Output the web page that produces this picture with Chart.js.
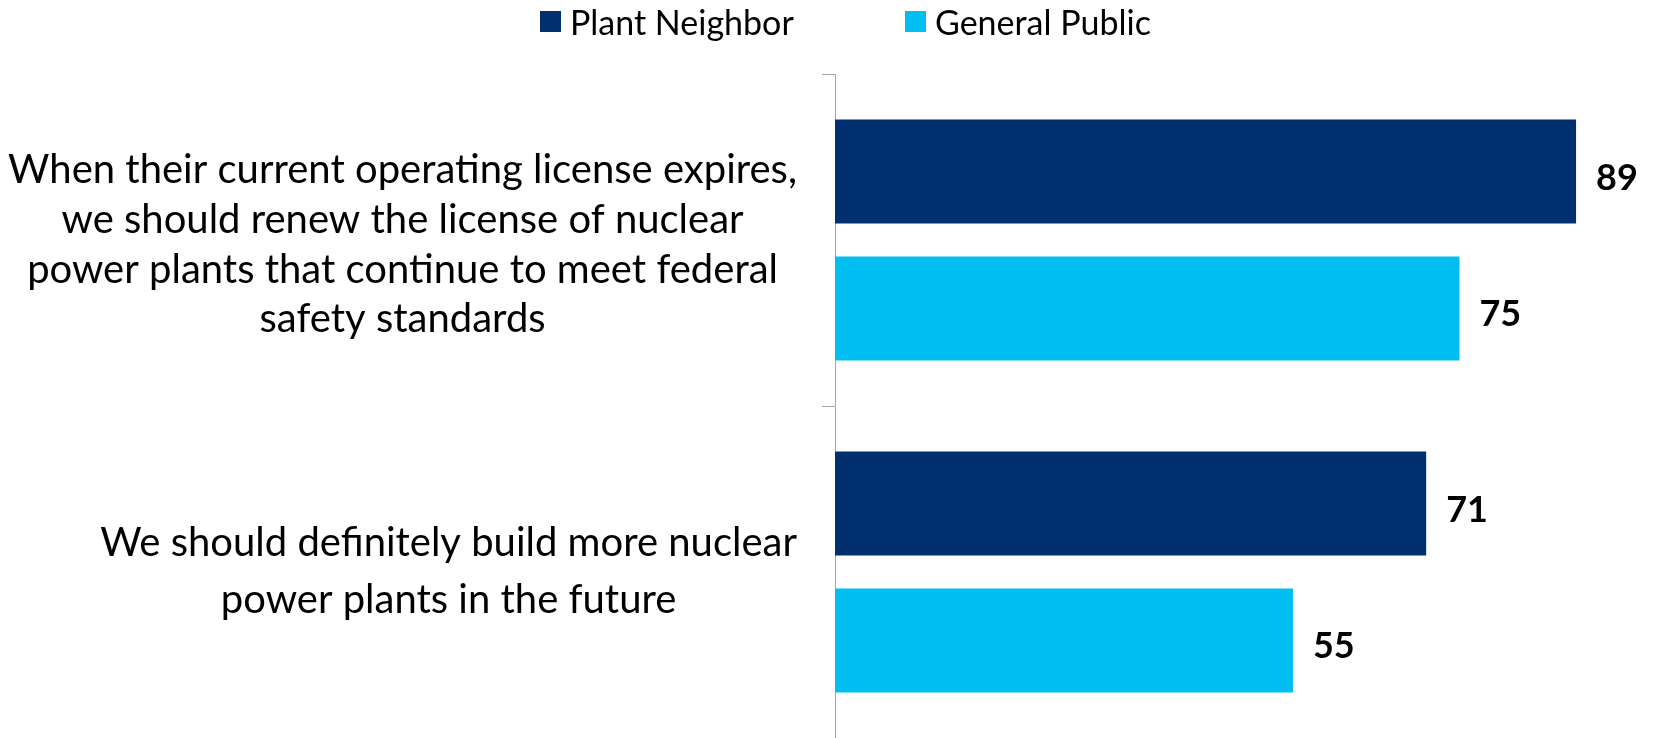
<!DOCTYPE html>
<html>
<head>
<meta charset="utf-8">
<script src="https://cdn.jsdelivr.net/npm/chart.js@4.4.1/dist/chart.umd.min.js"></script>
<style>
  html, body { margin: 0; padding: 0; background: #ffffff; }
  #wrap { width: 1655px; height: 738px; position: relative; }
</style>
</head>
<body>
<div id="wrap"><canvas id="c"></canvas></div>
<script>
// ---- data ----
const categories = [
  ["When their current operating license expires,", "we should renew the license of nuclear", "power plants that continue to meet federal", "safety standards"],
  ["We should definitely build more nuclear", "power plants in the future"]
];
const seriesNames = ["Plant Neighbor", "General Public"];
const plantNeighbor = [89, 71];
const generalPublic = [75, 55];

// ---- style ----
const DARK = '#00306F';
const LIGHT = '#00BEF2';
const AXIS = '#A6A6A6';
const FONT = 'Lato';
const LABEL_LINE_H = [49.7, 56.7];
const LABEL_BASE_SHIFT = [17.7, 12.3];

const customDraw = {
  id: 'customDraw',
  afterDraw(chart) {
    const ctx = chart.ctx;
    const yScale = chart.scales.y;
    const area = chart.chartArea;
    ctx.save();
    ctx.fillStyle = '#000000';

    // category labels: each block centered on itself, right-aligned near the axis
    ctx.font = '40px ' + FONT;
    ctx.textAlign = 'center';
    ctx.textBaseline = 'alphabetic';
    categories.forEach((lines, i) => {
      const cy = yScale.getPixelForValue(i);
      const lh = LABEL_LINE_H[i];
      const maxW = Math.max(...lines.map(l => ctx.measureText(l).width));
      const cx = area.left - 38 - maxW / 2;
      lines.forEach((l, j) => {
        ctx.fillText(l, cx, cy + (j - (lines.length - 1) / 2) * lh + LABEL_BASE_SHIFT[i]);
      });
    });

    // value labels
    ctx.font = 'bold 36px ' + FONT;
    ctx.textAlign = 'left';
    chart.data.datasets.forEach((ds, di) => {
      chart.getDatasetMeta(di).data.forEach((bar, k) => {
        ctx.fillText(String(ds.data[k]), bar.x + 20, bar.y + 18);
      });
    });

    // legend
    const legendX = [540, 905];
    ctx.font = '34px ' + FONT;
    chart.data.datasets.forEach((ds, di) => {
      ctx.fillStyle = ds.backgroundColor;
      ctx.fillRect(legendX[di], 11, 21, 21);
      ctx.fillStyle = '#000000';
      ctx.fillText(ds.label, legendX[di] + 30, 35);
    });
    ctx.restore();
  }
};

function build() {
  new Chart(document.getElementById('c'), {
    type: 'bar',
    data: {
      labels: categories,
      datasets: [
        { label: seriesNames[0], data: plantNeighbor, backgroundColor: DARK,
          categoryPercentage: 0.825, barPercentage: 0.76 },
        { label: seriesNames[1], data: generalPublic, backgroundColor: LIGHT,
          categoryPercentage: 0.825, barPercentage: 0.76 }
      ]
    },
    options: {
      indexAxis: 'y',
      responsive: true,
      maintainAspectRatio: false,
      animation: false,
      layout: { padding: { top: 74, right: 4, bottom: 0, left: 0 } },
      plugins: {
        legend: { display: false },
        tooltip: { enabled: false }
      },
      scales: {
        x: {
          display: false,
          min: 0,
          max: 98
        },
        y: {
          offset: true,
          grid: {
            offset: true,
            drawOnChartArea: false,
            drawTicks: true,
            tickLength: 13,
            color: AXIS,
            lineWidth: 1
          },
          border: { display: true, color: AXIS, width: 1 },
          ticks: { display: false },
          afterFit(scale) { scale.width = 835; }
        }
      }
    },
    plugins: [customDraw]
  });
}

Promise.all([
  document.fonts.load('40px ' + FONT),
  document.fonts.load('bold 36px ' + FONT)
]).then(build, build);
</script>
</body>
</html>
